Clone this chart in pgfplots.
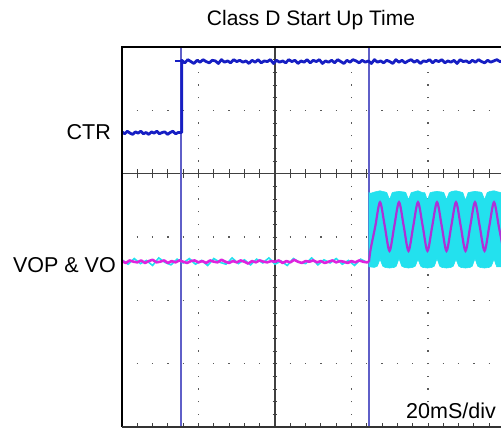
\documentclass[border=0pt]{standalone}
\usepackage{pgfplots}
\pgfplotsset{compat=1.18}
\usepackage{fontspec}
\setmainfont{Liberation Sans}
\definecolor{ctrblue}{RGB}{22,30,195}
\definecolor{vomag}{RGB}{222,35,222}
\definecolor{vopur}{RGB}{172,50,215}
\definecolor{vocyan}{RGB}{35,225,238}
\definecolor{cursor}{RGB}{95,95,200}
\definecolor{griddot}{RGB}{90,90,90}
\begin{document}
\begin{tikzpicture}
\useasboundingbox (0,0) rectangle (501bp,428bp);
% graticule (drawn beneath the traces)
\begin{scope}[shift={(122bp,1bp)}, x=76.5bp, y=63.3333bp]
  \foreach \gx in {1,3,4} {
    \draw[griddot, line width=1.3bp, dash pattern=on 1.3bp off 11.3667bp, dash phase=0.65bp] (\gx,0) -- (\gx,6);
  }
  \foreach \gy in {1,2,3,5} {
    \draw[griddot, line width=1.3bp, dash pattern=on 1.3bp off 14.0bp, dash phase=0.65bp] (0,\gy) -- (4.96,\gy);
  }
  \draw[black!75, line width=1.5bp] (2,0) -- (2,6);
  \draw[black!75, line width=1.5bp] (0,4) -- (4.96,4);
  \foreach \i in {1,...,24} {
    \draw[black!75, line width=1bp] (\i*0.2,3.93) -- (\i*0.2,4.07);
    \draw[black!75, line width=1bp] (\i*0.2,0) -- (\i*0.2,0.06);
  }
  \foreach \j in {1,...,29} {
    \draw[black!75, line width=1bp] (1.97,\j*0.2) -- (2.03,\j*0.2);
  }
\end{scope}
\begin{axis}[
  at={(122bp,1bp)}, anchor=south west,
  scale only axis, width=379bp, height=380bp,
  xmin=0, xmax=4.9542, ymin=0, ymax=6,
  hide axis,
]
% cursors
\addplot[cursor, line width=1.9bp] coordinates {(0.774,0) (0.774,6)};
\addplot[cursor, line width=1.9bp] coordinates {(3.229,0) (3.229,6)};
% CTR trace
\addplot[ctrblue, line width=2.8bp, line join=round] coordinates {
(0,4.66)(0.035,4.63)(0.07,4.67)(0.105,4.64)(0.14,4.62)(0.175,4.66)(0.21,4.64)(0.245,4.67)
(0.28,4.63)(0.315,4.65)(0.35,4.62)(0.385,4.66)(0.42,4.64)(0.455,4.67)(0.49,4.63)(0.525,4.65)
(0.56,4.66)(0.595,4.62)(0.63,4.65)(0.665,4.67)(0.70,4.63)(0.735,4.65)(0.78,4.65)
(0.78,5.79)(0.82,5.75)(0.86,5.80)(0.90,5.77)(0.94,5.74)(0.98,5.79)(1.02,5.76)(1.06,5.80)
(1.10,5.77)(1.14,5.75)(1.18,5.79)(1.22,5.78)(1.26,5.74)(1.30,5.80)(1.34,5.76)(1.38,5.78)
(1.42,5.75)(1.46,5.80)(1.50,5.77)(1.54,5.79)(1.58,5.76)
(1.62,5.78)(1.66,5.74)(1.70,5.79)(1.74,5.76)(1.78,5.80)(1.82,5.75)(1.86,5.78)(1.90,5.77)
(1.94,5.80)(1.98,5.74)(2.02,5.79)(2.06,5.76)(2.10,5.78)(2.14,5.75)(2.18,5.80)(2.22,5.77)
(2.26,5.79)(2.30,5.74)(2.34,5.78)(2.38,5.76)(2.42,5.80)
(2.46,5.75)(2.50,5.79)(2.54,5.77)(2.58,5.80)(2.62,5.74)(2.66,5.78)(2.70,5.76)(2.74,5.79)
(2.78,5.75)(2.82,5.80)(2.86,5.77)(2.90,5.74)(2.94,5.79)(2.98,5.76)(3.02,5.80)(3.06,5.78)
(3.10,5.75)(3.14,5.79)(3.18,5.76)(3.22,5.78)(3.26,5.74)
(3.30,5.80)(3.34,5.76)(3.38,5.78)(3.42,5.75)(3.46,5.79)(3.50,5.77)(3.54,5.74)(3.58,5.80)
(3.62,5.76)(3.66,5.79)(3.70,5.75)(3.74,5.78)(3.78,5.80)(3.82,5.76)(3.86,5.79)(3.90,5.74)
(3.94,5.78)(3.98,5.77)(4.02,5.80)(4.06,5.75)(4.10,5.79)
(4.14,5.77)(4.18,5.80)(4.22,5.75)(4.26,5.78)(4.30,5.76)(4.34,5.79)(4.38,5.74)(4.42,5.80)
(4.46,5.77)(4.50,5.78)(4.54,5.75)(4.58,5.79)(4.62,5.76)(4.66,5.80)(4.70,5.77)(4.74,5.75)
(4.78,5.79)(4.82,5.76)(4.86,5.78)(4.90,5.80)(4.94,5.77)(4.98,5.78)
};
\addplot[ctrblue, line width=2.4bp] coordinates {(0.69,5.78) (0.78,5.78)};
% VO (cyan) baseline noise
\addplot[vocyan, line width=1.6bp] coordinates {
(0,2.64)(0.08,2.57)(0.16,2.66)(0.24,2.58)(0.32,2.63)(0.40,2.55)(0.48,2.67)(0.56,2.60)
(0.64,2.56)(0.72,2.65)(0.80,2.59)(0.88,2.66)(0.96,2.57)(1.04,2.63)(1.12,2.55)(1.20,2.66)
(1.28,2.60)(1.36,2.57)(1.44,2.67)(1.52,2.58)(1.60,2.64)(1.68,2.56)(1.76,2.65)(1.84,2.59)
(1.92,2.67)(2.00,2.57)(2.08,2.62)(2.16,2.55)(2.24,2.66)(2.32,2.60)(2.40,2.58)(2.48,2.67)
(2.56,2.56)(2.64,2.64)(2.72,2.59)(2.80,2.66)(2.88,2.57)(2.96,2.63)(3.04,2.55)(3.12,2.65)
(3.20,2.60)(3.229,2.60)
};
% VO (cyan) switching band after start-up
\addplot[fill=vocyan, draw=vocyan, line width=0.6bp] coordinates {
(3.229,2.53)(3.229,3.70)(3.249,3.69)(3.30,3.71)(3.373,3.73)(3.44,3.71)(3.462,3.70)(3.497,3.59)
(3.532,3.70)(3.56,3.71)(3.621,3.72)(3.69,3.71)(3.710,3.70)(3.745,3.59)(3.780,3.70)(3.81,3.71)
(3.869,3.73)(3.93,3.70)(3.958,3.70)(3.993,3.58)(4.028,3.70)(4.06,3.71)(4.118,3.72)(4.18,3.71)
(4.207,3.70)(4.242,3.59)(4.277,3.70)(4.31,3.72)(4.366,3.73)(4.43,3.71)(4.455,3.70)(4.490,3.58)
(4.525,3.70)(4.56,3.71)(4.614,3.72)(4.68,3.71)(4.704,3.70)(4.739,3.59)(4.774,3.70)(4.81,3.72)
(4.863,3.73)(4.92,3.71)(4.97,3.70)
(4.97,2.53)(4.898,2.53)(4.863,2.65)(4.828,2.54)(4.80,2.52)(4.739,2.51)(4.68,2.52)(4.649,2.54)
(4.614,2.66)(4.579,2.54)(4.55,2.52)(4.490,2.51)(4.43,2.52)(4.401,2.54)(4.366,2.65)(4.331,2.54)
(4.30,2.52)(4.242,2.51)(4.18,2.52)(4.153,2.54)(4.118,2.66)(4.083,2.54)(4.05,2.52)(3.993,2.51)
(3.93,2.52)(3.904,2.54)(3.869,2.65)(3.834,2.54)(3.80,2.52)(3.745,2.51)(3.69,2.52)(3.656,2.54)
(3.621,2.66)(3.586,2.54)(3.56,2.52)(3.497,2.51)(3.44,2.52)(3.408,2.54)(3.373,2.65)(3.338,2.54)
(3.30,2.52)(3.229,2.53)
} -- cycle;
% VOP (magenta) baseline
\addplot[vomag, line width=2.6bp, line join=round] coordinates {
(0,2.62)(0.05,2.59)(0.10,2.63)(0.15,2.61)(0.20,2.60)(0.25,2.63)(0.30,2.59)(0.35,2.62)
(0.40,2.64)(0.45,2.60)(0.50,2.61)(0.55,2.63)(0.60,2.59)(0.65,2.62)(0.70,2.60)(0.75,2.63)
(0.80,2.61)(0.85,2.59)(0.90,2.62)(0.95,2.63)
(1.00,2.60)(1.05,2.62)(1.10,2.59)(1.15,2.63)(1.20,2.61)(1.25,2.60)(1.30,2.64)(1.35,2.61)
(1.40,2.59)(1.45,2.62)(1.50,2.60)(1.55,2.63)(1.60,2.61)(1.65,2.58)(1.70,2.62)(1.75,2.60)
(1.80,2.63)(1.85,2.61)(1.90,2.60)(1.95,2.62)
(2.00,2.61)(2.05,2.63)(2.10,2.59)(2.15,2.62)(2.20,2.60)(2.25,2.64)(2.30,2.61)(2.35,2.59)
(2.40,2.62)(2.45,2.61)(2.50,2.63)(2.55,2.60)(2.60,2.62)(2.65,2.59)(2.70,2.61)(2.75,2.63)
(2.80,2.60)(2.85,2.62)(2.90,2.61)(2.95,2.59)
(3.00,2.62)(3.05,2.60)(3.10,2.63)(3.15,2.61)(3.20,2.60)(3.229,2.61)
};
% VOP (magenta) sine after start-up
\addplot[vopur, line width=2.2bp, smooth] coordinates {
(3.229,2.61)(3.249,2.80)(3.311,3.17)(3.373,3.55)(3.435,3.17)(3.497,2.78)(3.559,3.17)(3.621,3.55)
(3.683,3.17)(3.745,2.78)(3.807,3.17)(3.869,3.55)(3.931,3.17)(3.993,2.78)(4.055,3.17)(4.118,3.55)
(4.180,3.17)(4.242,2.78)(4.304,3.17)(4.366,3.55)(4.428,3.17)(4.490,2.78)(4.552,3.17)(4.614,3.55)
(4.676,3.17)(4.739,2.78)(4.801,3.17)(4.863,3.55)(4.925,3.17)(4.987,2.78)
};
\end{axis}
% frame
\draw[black, line width=2bp] (122bp,1bp) -- (122bp,381bp) -- (502bp,381bp);
\draw[black!80, line width=1.5bp] (122bp,1bp) -- (502bp,1bp);
% texts
\node[anchor=center, inner sep=0pt, font=\fontsize{21bp}{24bp}\selectfont] at (311bp,408bp) {Class D Start Up Time};
\node[anchor=east, inner sep=0pt, font=\fontsize{21.5bp}{24bp}\selectfont] at (111bp,295.5bp) {CTR};
\node[anchor=east, inner sep=0pt, font=\fontsize{21.5bp}{24bp}\selectfont] at (116bp,163bp) {VOP \& VO};
\node[anchor=east, inner sep=0pt, font=\fontsize{21.5bp}{24bp}\selectfont] at (496bp,17bp) {20mS/div};
\end{tikzpicture}
\end{document}
